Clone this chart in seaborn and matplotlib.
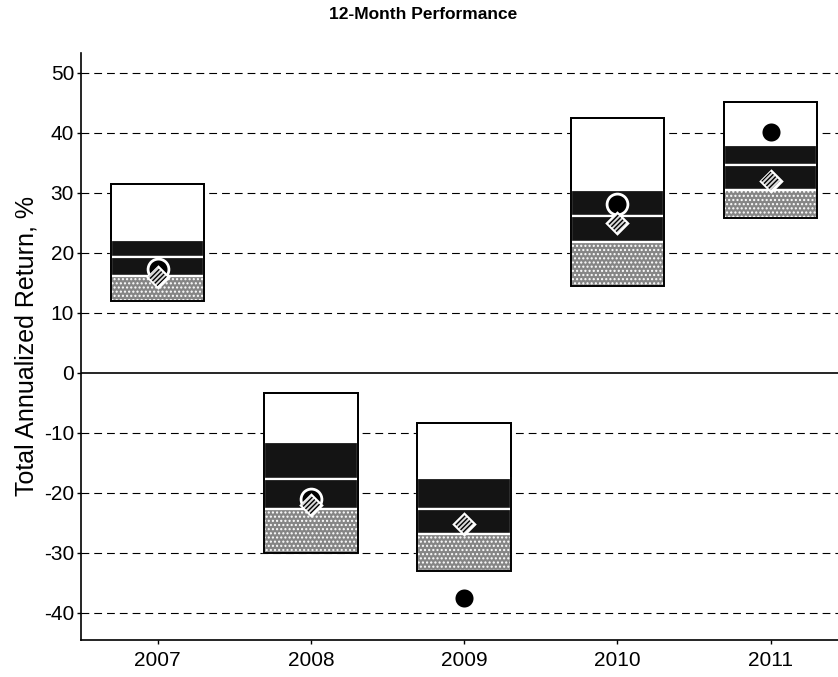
import matplotlib
matplotlib.use("Agg")
import matplotlib.pyplot as plt
import seaborn as sns

# 12-month performance: percentile bands per year (values in %)
years = ["2007", "2008", "2009", "2010", "2011"]
band_top = [31.5, -3.3, -8.3, 42.4, 45.2]
band_q1 = [22.2, -11.5, -17.5, 30.4, 38.0]
band_mid = [19.3, -17.7, -22.6, 26.1, 34.6]
band_q3 = [16.2, -22.7, -26.8, 21.8, 30.5]
band_bottom = [12.0, -30.0, -33.0, 14.5, 25.8]
fund_return = [17.3, -21.0, -37.5, 28.2, 40.2]
index_return = [16.0, -22.0, -25.2, 24.9, 32.0]

sns.set_theme(style="white")
plt.rcParams["font.family"] = ["Liberation Sans", "DejaVu Sans"]
plt.rcParams["axes.unicode_minus"] = False
plt.rcParams["hatch.linewidth"] = 1.0
for k in ["text.color", "axes.labelcolor", "xtick.color", "ytick.color"]:
    plt.rcParams[k] = "black"

fig = plt.figure(figsize=(8.38, 6.77), dpi=100)
ax = fig.add_axes([0.0967, 0.0547, 0.9033, 0.867])

# dashed grid + solid zero line
for v in range(-40, 51, 10):
    if v == 0:
        ax.axhline(0, color="black", lw=1.2, zorder=1)
    else:
        ax.axhline(v, color="black", lw=0.8, ls=(0, (7, 4.5)), zorder=1)

w = 0.61
def band(low, high, **kw):
    heights = [h - l for h, l in zip(high, low)]
    sns.barplot(x=years, y=heights, bottom=low, width=w, errorbar=None,
                saturation=1, ax=ax, zorder=2, **kw)

# top (white), two dark quartiles, bottom (grey)
band(band_q1, band_top, color="white", edgecolor="black", linewidth=1.2)
band(band_mid, band_q1, color="#141414", edgecolor="white", linewidth=1.6)
band(band_q3, band_mid, color="#141414", edgecolor="white", linewidth=1.6)
band(band_bottom, band_q3, color="#858585", edgecolor="white", linewidth=1.6,
     hatch="....")
# outer frame
band(band_bottom, band_top, fill=False, color="black", linewidth=1.4)

# fund (circle) and index (diamond)
sns.stripplot(x=years, y=fund_return, jitter=False, size=15, color="black",
              edgecolor="white", linewidth=2, ax=ax, zorder=5)
sns.stripplot(x=years, y=index_return, jitter=False, marker="D", size=12.5,
              color="white", linewidth=0, ax=ax, zorder=6)
sns.stripplot(x=years, y=index_return, jitter=False, marker="D", size=9.5,
              color="#d9d9d9", edgecolor="black", linewidth=0,
              hatch="/" * 7, ax=ax, zorder=7)

ax.set_xlim(-0.5, 4.44)
ax.set_ylim(-44.5, 53.3)
ax.set_yticks(range(-40, 51, 10))
ax.set_xlabel("")
ax.set_ylabel("Total Annualized Return, %", fontsize=18, labelpad=4)
fig.text(0.505, 0.978, "12-Month Performance", ha="center", va="center",
         fontsize=12.5, fontweight="bold")

for s in ["top", "right"]:
    ax.spines[s].set_visible(False)
for s in ["left", "bottom"]:
    ax.spines[s].set_color("black")
    ax.spines[s].set_linewidth(1.2)
ax.tick_params(axis="both", which="major", labelsize=15, length=3,
               width=1, color="black", left=True, bottom=True, pad=2)
ax.tick_params(axis="x", pad=5)

plt.savefig("out.png", dpi=100)
